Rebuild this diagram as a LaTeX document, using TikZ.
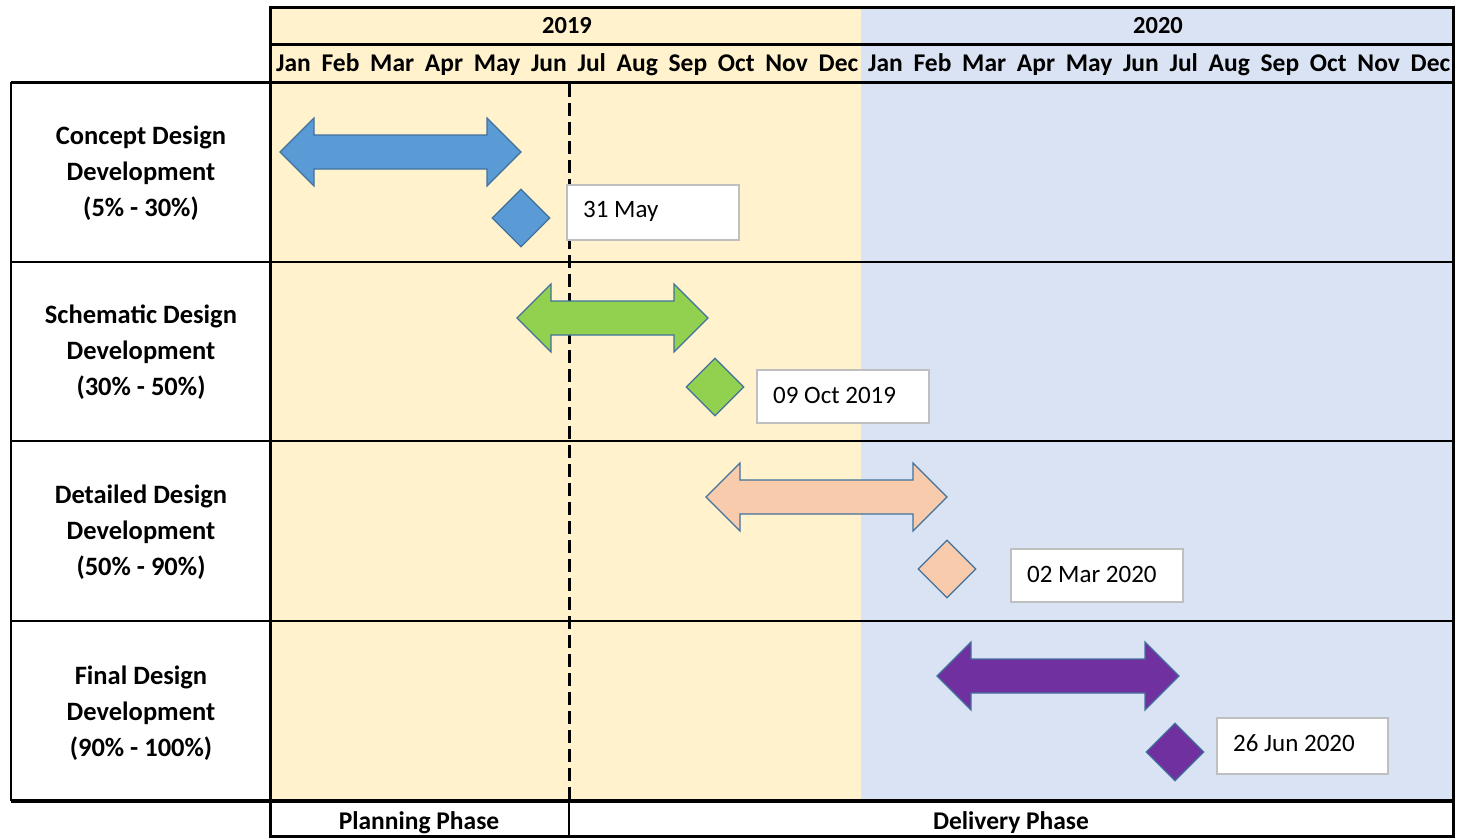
\documentclass[tikz,border=0pt]{standalone}
\usepackage{fontspec}
\setmainfont{Carlito}
\usetikzlibrary{shapes.geometric}
\definecolor{yr19}{HTML}{FFF2CC}
\definecolor{yr20}{HTML}{DAE3F3}
\definecolor{cblue}{HTML}{5B9BD5}
\definecolor{cgreen}{HTML}{92D050}
\definecolor{cpeach}{HTML}{F8CBAD}
\definecolor{cpurple}{HTML}{7030A0}
\definecolor{edgec}{HTML}{41719C}
\definecolor{boxedge}{HTML}{BFBFBF}
\tikzset{
  frame/.style={line width=3pt, black},
  shapeline/.style={draw=edgec, line width=1.2pt, line join=miter},
  mon/.style={font=\fontsize{25.5}{28}\selectfont\bfseries, inner sep=0pt, anchor=west, text width=582pt, align=justify},
  yrlab/.style={font=\fontsize{24.5}{28}\selectfont\bfseries, inner sep=0pt},
  rowlab/.style={font=\fontsize{26.5}{36}\selectfont\bfseries, align=center, inner sep=0pt},
  phaselab/.style={font=\fontsize{25.5}{30}\selectfont\bfseries, inner sep=0pt},
  datebox/.style={draw=boxedge, line width=1.5pt, fill=white, anchor=north west, inner sep=0pt},
  datetext/.style={font=\fontsize{25}{30}\selectfont, anchor=west, inner sep=0pt},
  mile/.style={diamond, shapeline, minimum width=58pt, minimum height=58pt, inner sep=0pt},
}
\newcommand\dblarrow[4]{%
  \filldraw[shapeline, fill=#4] (#1,#3) -- (#1+34,#3-34) -- (#1+34,#3-17) -- (#2-34,#3-17) -- (#2-34,#3-34) -- (#2,#3) -- (#2-34,#3+34) -- (#2-34,#3+17) -- (#1+34,#3+17) -- (#1+34,#3+34) -- cycle;}
\newcommand\monthrow{Jan\hfill Feb\hfill Mar\hfill Apr\hfill May\hfill Jun\hfill Jul\hfill Aug\hfill Sep\hfill Oct\hfill Nov\hfill Dec}
\begin{document}
\begin{tikzpicture}[x=1pt,y=-1pt]
\useasboundingbox (0,0) rectangle (1457,838);
\fill[white] (0,0) rectangle (1457,838);
% backgrounds
\fill[yr19] (270,7) rectangle (861,801);
\fill[yr20] (861,7) rectangle (1453,801);
% years
\node[yrlab] (y2019) at (567,26) {2019};
\node[yrlab] (y2020) at (1158,26) {2020};
% months
\node[mon] (m2019) at (276,65) {\monthrow};
\node[mon] (m2020) at (868,65) {\monthrow};
% row labels
\node[rowlab] (r1) at (141,173) {Concept Design\\Development\\(5\% - 30\%)};
\node[rowlab] (r2) at (141,352) {Schematic Design\\Development\\(30\% - 50\%)};
\node[rowlab] (r3) at (141,532) {Detailed Design\\Development\\(50\% - 90\%)};
\node[rowlab] (r4) at (141,713) {Final Design\\Development\\(90\% - 100\%)};
% dashed divider
\draw[line width=3pt, black, dash pattern=on 13pt off 6pt] (569,84) -- (569,801);
% arrows
\dblarrow{280}{521}{152}{cblue}
\dblarrow{517}{708}{318}{cgreen}
\dblarrow{706}{947}{497}{cpeach}
\dblarrow{937}{1179}{676}{cpurple}
% milestones
\node[mile, fill=cblue] (d1) at (521,218) {};
\node[mile, fill=cgreen] (d2) at (715,387) {};
\node[mile, fill=cpeach] (d3) at (947,569) {};
\node[mile, fill=cpurple] (d4) at (1175,752) {};
% date boxes
\node[datebox, minimum width=172pt, minimum height=55pt] (b1) at (566,184) {};
\node[datetext] (t1) at (583,211.5) {31 May};
\node[datebox, minimum width=172pt, minimum height=53pt] (b2) at (756,369) {};
\node[datetext] (t2) at (773,395.5) {09 Oct 2019};
\node[datebox, minimum width=172pt, minimum height=53pt] (b3) at (1010,548) {};
\node[datetext] (t3) at (1027,574.5) {02 Mar 2020};
\node[datebox, minimum width=171pt, minimum height=56pt] (b4) at (1216,717) {};
\node[datetext] (t4) at (1233,743) {26 Jun 2020};
% grid frame
\draw[frame] (270,7) -- (1453,7);
\draw[frame] (270,44) -- (1453,44);
\draw[frame] (11,82) -- (1453,82);
\draw[line width=2.5pt] (11,262) -- (1453,262);
\draw[line width=2.5pt] (11,441) -- (1453,441);
\draw[line width=2.5pt] (11,621) -- (1453,621);
\draw[line width=4pt] (11,801) -- (1453,801);
\draw[line width=2.5pt] (11,82) -- (11,801);
\draw[frame] (270,5.5) -- (270,838);
\draw[frame] (1453,5.5) -- (1453,838);
\draw[line width=2.5pt] (569,801) -- (569,838);
\draw[frame] (270,836.5) -- (1453,836.5);
% phases
\node[phaselab] (p1) at (419,823) {Planning Phase};
\node[phaselab] (p2) at (1011,823) {Delivery Phase};
\end{tikzpicture}
\end{document}
